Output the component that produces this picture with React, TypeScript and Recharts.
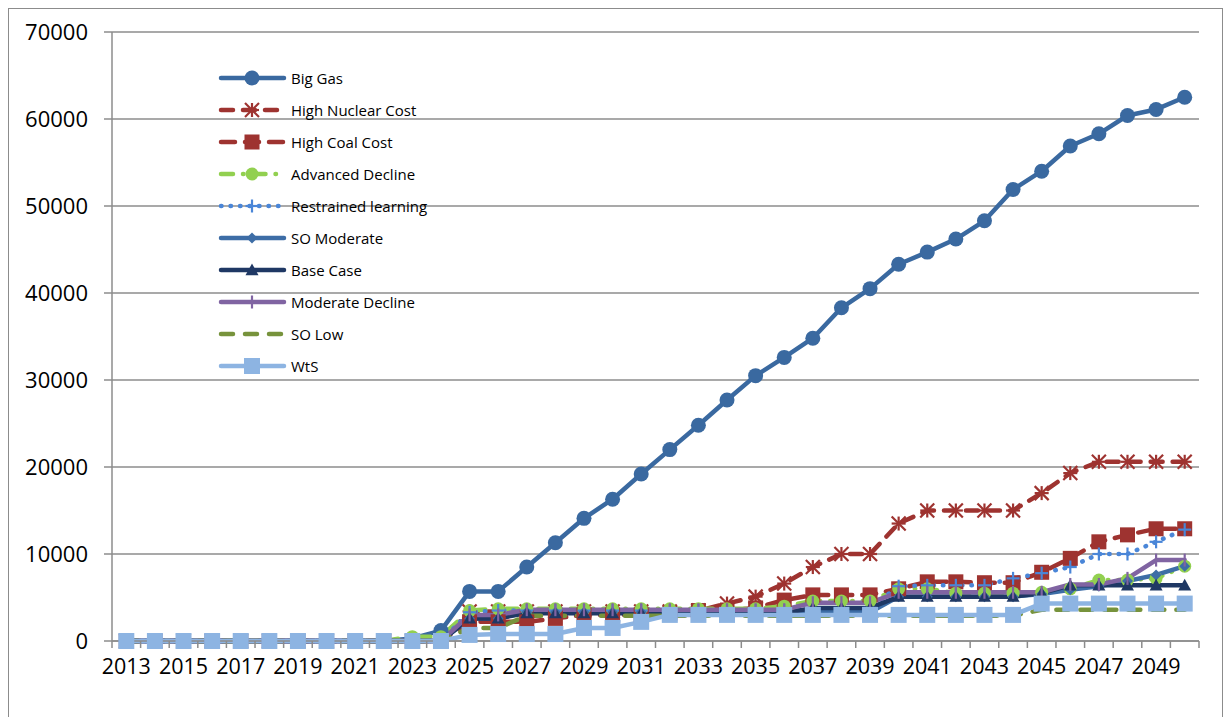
import React from 'react';
import { LineChart, Line, XAxis, YAxis, CartesianGrid } from 'recharts';

const years = [
  2013, 2014, 2015, 2016, 2017, 2018, 2019, 2020, 2021, 2022, 2023, 2024, 2025, 2026, 2027, 2028, 2029,
  2030, 2031, 2032, 2033, 2034, 2035, 2036, 2037, 2038, 2039, 2040, 2041, 2042, 2043, 2044, 2045, 2046,
  2047, 2048, 2049, 2050,
];

const yTicks = [0, 10000, 20000, 30000, 40000, 50000, 60000, 70000];

// values per scenario, 2013..2050
const bigGas = [
  0, 0, 0, 0, 0, 0, 0, 0, 0, 0, 300, 1200, 5700, 5700, 8500, 11300, 14100, 16300, 19200, 22000, 24800,
  27700, 30500, 32600, 34800, 38300, 40500, 43300, 44700, 46200, 48300, 51900, 54000, 56900, 58300,
  60400, 61100, 62500,
];
const highNuclearCost = [
  0, 0, 0, 0, 0, 0, 0, 0, 0, 0, 0, 0, 3400, 3400, 3400, 3400, 3400, 3400, 3400, 3400, 3500, 4300, 5100,
  6600, 8500, 10000, 10000, 13500, 15000, 15000, 15000, 15000, 17000, 19300, 20600, 20600, 20600, 20600,
];
const highCoalCost = [
  0, 0, 0, 0, 0, 0, 0, 0, 0, 0, 0, 0, 2200, 2200, 2200, 2600, 3000, 3000, 3000, 3200, 3500, 3500, 3800,
  4700, 5300, 5300, 5300, 6000, 6800, 6800, 6700, 6700, 7900, 9500, 11400, 12200, 12900, 12900,
];
const advancedDecline = [
  0, 0, 0, 0, 0, 0, 0, 0, 0, 0, 500, 500, 3500, 3700, 3700, 3700, 3700, 3700, 3700, 3700, 3700, 3700,
  3700, 4000, 4600, 4600, 4600, 6000, 6000, 5500, 5500, 5500, 5600, 6000, 7000, 7000, 7200, 8600,
];
const restrainedLearning = [
  0, 0, 0, 0, 0, 0, 0, 0, 0, 0, 0, 0, 3300, 3500, 3500, 3500, 3500, 3500, 3500, 3500, 3500, 3500, 3500,
  3500, 3600, 3600, 3800, 6300, 6400, 6400, 6400, 7200, 7800, 8500, 10000, 10000, 11400, 12800,
];
const soModerate = [
  0, 0, 0, 0, 0, 0, 0, 0, 0, 0, 0, 0, 2600, 2600, 3300, 3300, 3300, 3300, 3300, 3300, 3300, 3300, 3300,
  3300, 3300, 3300, 3300, 5100, 5100, 5100, 5100, 5100, 5400, 5900, 6300, 6900, 7600, 8600,
];
const baseCase = [
  0, 0, 0, 0, 0, 0, 0, 0, 0, 0, 0, 0, 2600, 2600, 3200, 3200, 3200, 3200, 3200, 3200, 3200, 3200, 3200,
  3200, 3800, 3800, 3800, 5100, 5100, 5100, 5100, 5100, 5500, 6400, 6400, 6400, 6400, 6400,
];
const moderateDecline = [
  0, 0, 0, 0, 0, 0, 0, 0, 0, 0, 0, 0, 3000, 3000, 3600, 3600, 3600, 3600, 3600, 3600, 3600, 3600, 3600,
  3600, 4400, 4400, 4400, 5600, 5600, 5600, 5600, 5600, 5600, 6500, 6500, 7200, 9300, 9300,
];
const soLow = [
  0, 0, 0, 0, 0, 0, 0, 0, 0, 0, 0, 0, 1500, 1500, 2900, 2900, 2900, 2900, 2900, 2900, 2900, 2900, 2900,
  2900, 2900, 2900, 2900, 2900, 2900, 2900, 2900, 2900, 3600, 3600, 3600, 3600, 3600, 3600,
];
const wts = [
  0, 0, 0, 0, 0, 0, 0, 0, 0, 0, 0, 0, 700, 800, 800, 800, 1500, 1500, 2200, 3000, 3000, 3000, 3000, 3000,
  3000, 3000, 3000, 3000, 3000, 3000, 3000, 3000, 4300, 4300, 4300, 4300, 4300, 4300,
];

type MarkerShape = 'circle' | 'asterisk' | 'square' | 'diamond' | 'triangle' | 'plus' | 'bar' | 'none';

interface Series {
  key: string;
  name: string;
  values: number[];
  color: string;
  dash?: string;
  marker: MarkerShape;
  size: number;
}

const SERIES: Series[] = [
  { key: 'bigGas', name: 'Big Gas', values: bigGas, color: '#3A69A0', marker: 'circle', size: 15 },
  { key: 'highNuclear', name: 'High Nuclear Cost', values: highNuclearCost, color: '#9E3330', dash: '12 10', marker: 'asterisk', size: 14 },
  { key: 'highCoal', name: 'High Coal Cost', values: highCoalCost, color: '#9E3330', dash: '14 10', marker: 'square', size: 15 },
  { key: 'advDecline', name: 'Advanced Decline', values: advancedDecline, color: '#92D050', dash: '12 10 0.5 10', marker: 'circle', size: 13 },
  { key: 'restrained', name: 'Restrained learning', values: restrainedLearning, color: '#4A86D8', dash: '0.5 9', marker: 'plus', size: 13 },
  { key: 'soModerate', name: 'SO Moderate', values: soModerate, color: '#3D6DA6', marker: 'diamond', size: 11 },
  { key: 'baseCase', name: 'Base Case', values: baseCase, color: '#1F3864', marker: 'triangle', size: 13 },
  { key: 'modDecline', name: 'Moderate Decline', values: moderateDecline, color: '#8064A2', marker: 'bar', size: 13 },
  { key: 'soLow', name: 'SO Low', values: soLow, color: '#77933C', dash: '12 12', marker: 'none', size: 0 },
  { key: 'wts', name: 'WtS', values: wts, color: '#8DB4E2', marker: 'square', size: 16 },
];

const rows = years.map((year, i) => {
  const row: Record<string, number> = { year };
  SERIES.forEach((s) => {
    row[s.key] = s.values[i];
  });
  return row;
});

const CHART_W = 1213;
const CHART_H = 708;
const MARGIN = { top: 23, right: 23, bottom: 26, left: 0 };
const Y_AXIS_W = 103;
const BAND = (CHART_W - MARGIN.right - Y_AXIS_W) / years.length;
const AXIS_GRAY = '#8C8C8C';
const FONT = '"Open Sans", "Noto Sans", sans-serif';

function Marker({ shape, cx, cy, color, size }: { shape: MarkerShape; cx: number; cy: number; color: string; size: number }) {
  const h = size / 2;
  switch (shape) {
    case 'circle':
      return <circle cx={cx} cy={cy} r={h} fill={color} />;
    case 'square':
      return <rect x={cx - h} y={cy - h} width={size} height={size} fill={color} />;
    case 'diamond':
      return <polygon points={`${cx},${cy - h} ${cx + h},${cy} ${cx},${cy + h} ${cx - h},${cy}`} fill={color} />;
    case 'triangle':
      return <polygon points={`${cx},${cy - h} ${cx + h},${cy + h * 0.8} ${cx - h},${cy + h * 0.8}`} fill={color} />;
    case 'asterisk':
      return (
        <g stroke={color} strokeWidth={2.2}>
          <line x1={cx - h} y1={cy - h} x2={cx + h} y2={cy + h} />
          <line x1={cx - h} y1={cy + h} x2={cx + h} y2={cy - h} />
          <line x1={cx} y1={cy - h} x2={cx} y2={cy + h} />
          <line x1={cx - h} y1={cy} x2={cx + h} y2={cy} />
        </g>
      );
    case 'plus':
      return (
        <g stroke={color} strokeWidth={2.2}>
          <line x1={cx} y1={cy - h} x2={cx} y2={cy + h} />
          <line x1={cx - h} y1={cy} x2={cx + h} y2={cy} />
        </g>
      );
    case 'bar':
      return <line x1={cx} y1={cy - h} x2={cx} y2={cy + h} stroke={color} strokeWidth={2.2} />;
    default:
      return null;
  }
}

const XTick = (props: any) => {
  const { x, y, payload, index } = props;
  const i = payload?.index ?? index;
  const half = BAND / 2;
  return (
    <g>
      <line x1={x - half} y1={y} x2={x - half} y2={y + 7} stroke={AXIS_GRAY} strokeWidth={1.5} />
      {i === years.length - 1 && (
        <line x1={x + half} y1={y} x2={x + half} y2={y + 7} stroke={AXIS_GRAY} strokeWidth={1.5} />
      )}
      {i % 2 === 0 && (
        <text x={x} y={y + 24} textAnchor="middle" dominantBaseline="central" fill="#000" fontSize={21.5} fontFamily={FONT}>
          {payload.value}
        </text>
      )}
    </g>
  );
};

function LegendSample({ s }: { s: Series }) {
  return (
    <svg width={70} height={32}>
      <line
        x1={3}
        y1={16}
        x2={66}
        y2={16}
        stroke={s.color}
        strokeWidth={4.5}
        strokeDasharray={s.dash}
        strokeLinecap="round"
      />
      <Marker shape={s.marker} cx={34} cy={16} color={s.color} size={s.size} />
    </svg>
  );
}

export default function App() {
  return (
    <div
      style={{
        position: 'relative',
        width: CHART_W,
        height: 720,
        border: `1px solid ${AXIS_GRAY}`,
        fontFamily: FONT,
        background: '#fff',
      }}
    >
      <LineChart width={CHART_W} height={CHART_H} data={rows} margin={MARGIN}>
        <CartesianGrid horizontal vertical={false} stroke={AXIS_GRAY} strokeWidth={1.5} />
        <XAxis
          dataKey="year"
          interval={0}
          height={50}
          padding={{ left: BAND / 2, right: BAND / 2 }}
          tickLine={false}
          tickSize={0}
          tickMargin={0}
          axisLine={{ stroke: AXIS_GRAY, strokeWidth: 1.5 }}
          tick={<XTick />}
        />
        <YAxis
          width={Y_AXIS_W}
          domain={[0, 70000]}
          ticks={yTicks}
          interval={0}
          tickSize={8}
          tickMargin={16}
          axisLine={{ stroke: AXIS_GRAY, strokeWidth: 1.5 }}
          tickLine={{ stroke: AXIS_GRAY, strokeWidth: 1.5 }}
          tick={{ fill: '#000', fontSize: 22, fontFamily: FONT }}
        />
        {SERIES.map((s) => (
          <Line
            key={s.key}
            dataKey={s.key}
            name={s.name}
            type="linear"
            stroke={s.color}
            strokeWidth={4.5}
            strokeDasharray={s.dash}
            strokeLinecap="round"
            strokeLinejoin="round"
            isAnimationActive={false}
            activeDot={false}
            dot={(p: any) => (
              <Marker key={`${s.key}-${p.index}`} shape={s.marker} cx={p.cx} cy={p.cy} color={s.color} size={s.size} />
            )}
          />
        ))}
      </LineChart>
      <div style={{ position: 'absolute', left: 209, top: 53 }}>
        {SERIES.map((s) => (
          <div key={s.key} style={{ display: 'flex', alignItems: 'center', height: 32 }}>
            <LegendSample s={s} />
            <span style={{ marginLeft: 3, fontSize: 15, color: '#000' }}>{s.name}</span>
          </div>
        ))}
      </div>
    </div>
  );
}
